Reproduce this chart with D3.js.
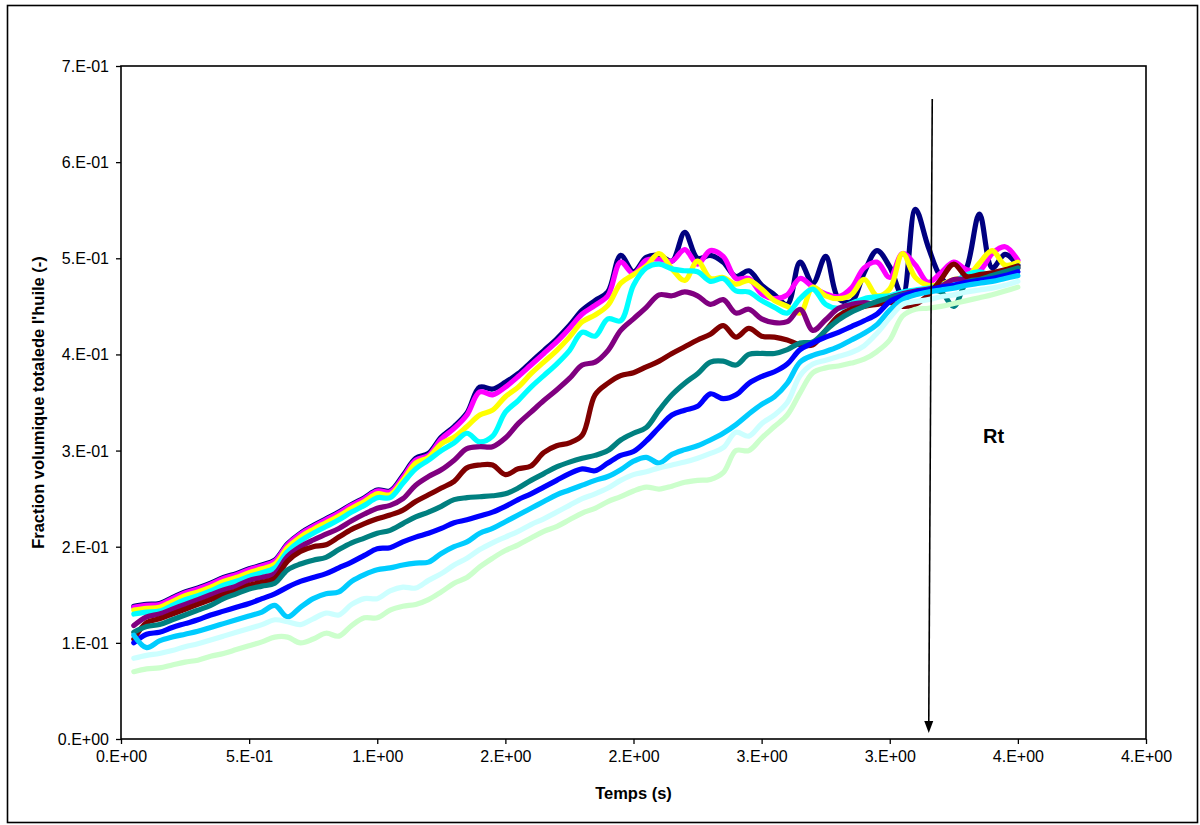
<!DOCTYPE html>
<html>
<head>
<meta charset="utf-8">
<script src="https://cdn.jsdelivr.net/npm/d3@7"></script>
<style>
  html, body { margin: 0; padding: 0; background: #fff; }
  svg { display: block; font-family: "Liberation Sans", Arial, sans-serif; }
</style>
</head>
<body>
<svg id="chart" width="1200" height="825"></svg>
<script>
const times = [0.05,0.10,0.15,0.20,0.25,0.30,0.35,0.40,0.45,0.50,0.55,0.60,0.65,0.70,0.75,0.80,0.85,0.90,0.95,1.00,
  1.05,1.10,1.15,1.20,1.25,1.30,1.35,1.40,1.45,1.50,1.55,1.60,1.65,1.70,1.75,1.80,1.85,1.90,1.95,2.00,
  2.05,2.10,2.15,2.20,2.25,2.30,2.35,2.40,2.45,2.50,2.55,2.60,2.65,2.70,2.75,2.80,2.85,2.90,2.95,3.00,
  3.05,3.10,3.15,3.20,3.25,3.30,3.35,3.40,3.45,3.50];

const sNavy = [0.138,0.140,0.141,0.147,0.153,0.157,0.162,0.168,0.172,0.177,0.181,0.186,0.203,0.214,0.222,0.229,0.236,0.244,0.251,0.259,
  0.258,0.274,0.292,0.297,0.314,0.325,0.339,0.366,0.364,0.371,0.380,0.392,0.404,0.416,0.430,0.446,0.456,0.465,0.503,0.486,
  0.501,0.503,0.497,0.527,0.500,0.503,0.496,0.481,0.487,0.472,0.462,0.452,0.496,0.474,0.502,0.458,0.455,0.485,0.508,0.491,
  0.461,0.551,0.512,0.480,0.470,0.490,0.546,0.490,0.504,0.493];
const sMagenta = [0.137,0.139,0.140,0.146,0.152,0.156,0.161,0.167,0.171,0.176,0.180,0.185,0.202,0.213,0.221,0.228,0.235,0.243,0.250,0.258,
  0.257,0.272,0.290,0.295,0.312,0.323,0.337,0.361,0.358,0.366,0.377,0.389,0.401,0.413,0.427,0.442,0.451,0.461,0.496,0.484,
  0.498,0.499,0.497,0.509,0.494,0.508,0.502,0.479,0.479,0.463,0.458,0.462,0.479,0.470,0.463,0.460,0.469,0.490,0.496,0.480,
  0.505,0.493,0.475,0.485,0.496,0.488,0.487,0.505,0.512,0.498];
const sYellow = [0.134,0.136,0.137,0.143,0.149,0.153,0.158,0.164,0.168,0.173,0.177,0.182,0.199,0.210,0.218,0.225,0.232,0.240,0.247,0.255,
  0.254,0.269,0.287,0.293,0.307,0.314,0.325,0.337,0.342,0.356,0.366,0.380,0.392,0.404,0.418,0.434,0.441,0.451,0.474,0.483,
  0.492,0.505,0.489,0.477,0.497,0.479,0.480,0.473,0.477,0.468,0.456,0.450,0.443,0.470,0.461,0.458,0.462,0.478,0.461,0.468,
  0.505,0.480,0.472,0.473,0.478,0.480,0.495,0.508,0.493,0.496];
const sCyan = [0.130,0.132,0.133,0.139,0.145,0.149,0.154,0.160,0.164,0.169,0.173,0.178,0.195,0.206,0.214,0.221,0.228,0.236,0.243,0.251,
  0.251,0.266,0.281,0.290,0.300,0.308,0.318,0.309,0.315,0.340,0.352,0.366,0.378,0.390,0.404,0.423,0.419,0.437,0.435,0.472,
  0.490,0.494,0.489,0.487,0.486,0.476,0.479,0.466,0.465,0.456,0.449,0.443,0.458,0.468,0.452,0.448,0.453,0.458,0.460,0.461,
  0.465,0.467,0.469,0.472,0.475,0.483,0.486,0.482,0.487,0.492];
const sPurple = [0.118,0.127,0.130,0.135,0.140,0.145,0.150,0.155,0.159,0.165,0.168,0.172,0.190,0.200,0.207,0.213,0.219,0.227,0.234,0.240,
  0.243,0.250,0.264,0.273,0.280,0.290,0.302,0.304,0.304,0.313,0.328,0.340,0.352,0.363,0.375,0.389,0.392,0.404,0.425,0.437,
  0.449,0.462,0.461,0.465,0.461,0.452,0.457,0.443,0.447,0.437,0.433,0.434,0.447,0.425,0.436,0.448,0.452,0.454,0.452,0.459,
  0.463,0.466,0.468,0.471,0.478,0.478,0.480,0.483,0.487,0.490];
const sMaroon = [0.104,0.121,0.125,0.130,0.135,0.140,0.145,0.150,0.154,0.160,0.163,0.167,0.185,0.195,0.200,0.202,0.210,0.218,0.224,0.229,
  0.233,0.238,0.247,0.254,0.261,0.268,0.282,0.285,0.285,0.275,0.281,0.284,0.298,0.305,0.308,0.316,0.358,0.370,0.378,0.381,
  0.387,0.393,0.401,0.408,0.415,0.421,0.430,0.418,0.427,0.419,0.418,0.415,0.410,0.410,0.425,0.440,0.447,0.450,0.452,0.454,
  0.450,0.452,0.462,0.478,0.494,0.481,0.483,0.485,0.488,0.492];
const sTeal = [0.111,0.117,0.119,0.124,0.129,0.134,0.139,0.146,0.151,0.156,0.159,0.162,0.176,0.182,0.186,0.189,0.197,0.204,0.209,0.214,
  0.217,0.224,0.231,0.236,0.242,0.249,0.251,0.252,0.253,0.255,0.261,0.269,0.276,0.283,0.288,0.292,0.295,0.300,0.311,0.318,
  0.324,0.342,0.358,0.370,0.380,0.392,0.393,0.389,0.400,0.401,0.401,0.405,0.412,0.413,0.425,0.436,0.444,0.450,0.455,0.459,
  0.462,0.464,0.467,0.465,0.450,0.475,0.478,0.482,0.486,0.490];
const sBlue = [0.100,0.109,0.111,0.116,0.120,0.124,0.129,0.133,0.137,0.141,0.146,0.151,0.158,0.164,0.168,0.172,0.178,0.184,0.191,0.198,
  0.199,0.205,0.210,0.214,0.219,0.225,0.228,0.232,0.236,0.242,0.249,0.255,0.262,0.269,0.276,0.281,0.279,0.287,0.295,0.299,
  0.310,0.324,0.337,0.342,0.346,0.359,0.354,0.358,0.370,0.377,0.382,0.390,0.405,0.412,0.418,0.423,0.429,0.435,0.442,0.455,
  0.461,0.465,0.467,0.470,0.472,0.475,0.477,0.479,0.482,0.486];
const sSkyBlue = [0.108,0.095,0.102,0.106,0.109,0.112,0.116,0.120,0.124,0.128,0.132,0.139,0.127,0.137,0.146,0.151,0.153,0.164,0.171,0.176,
  0.178,0.181,0.183,0.184,0.193,0.200,0.205,0.214,0.219,0.226,0.233,0.240,0.247,0.254,0.259,0.264,0.269,0.273,0.280,0.289,
  0.293,0.287,0.296,0.301,0.305,0.311,0.318,0.327,0.338,0.348,0.356,0.370,0.392,0.399,0.403,0.408,0.415,0.422,0.431,0.446,
  0.457,0.462,0.465,0.467,0.469,0.472,0.474,0.476,0.479,0.482];
const sLightCyan = [0.084,0.087,0.089,0.092,0.096,0.099,0.103,0.107,0.111,0.115,0.119,0.124,0.122,0.119,0.125,0.131,0.129,0.140,0.146,0.146,
  0.154,0.158,0.157,0.165,0.172,0.181,0.188,0.197,0.204,0.210,0.216,0.223,0.229,0.236,0.243,0.250,0.255,0.261,0.269,0.275,
  0.278,0.282,0.285,0.288,0.292,0.297,0.303,0.319,0.315,0.328,0.337,0.350,0.378,0.390,0.394,0.398,0.402,0.409,0.422,0.438,
  0.452,0.455,0.457,0.460,0.462,0.465,0.467,0.469,0.472,0.476];
const sLightGreen = [0.070,0.073,0.074,0.077,0.080,0.082,0.086,0.089,0.093,0.097,0.101,0.106,0.106,0.100,0.104,0.110,0.107,0.118,0.126,0.126,
  0.134,0.138,0.140,0.145,0.153,0.162,0.168,0.179,0.188,0.196,0.202,0.209,0.216,0.221,0.228,0.235,0.240,0.247,0.252,0.258,
  0.262,0.260,0.263,0.267,0.269,0.270,0.277,0.300,0.300,0.313,0.325,0.337,0.360,0.381,0.386,0.388,0.391,0.395,0.403,0.415,
  0.440,0.447,0.448,0.450,0.453,0.456,0.459,0.462,0.466,0.470];

const seriesList = [sNavy, sMagenta, sYellow, sCyan, sPurple, sMaroon, sTeal, sBlue, sSkyBlue, sLightCyan, sLightGreen];
const seriesColors = ["#000080","#FF00FF","#FFFF00","#00FFFF","#800080","#800000","#008080","#0000FF","#00CCFF","#CCFFFF","#CCFFCC"];

const xTickValues = [0,0.5,1.0,1.5,2.0,2.5,3.0,3.5,4.0];
const xTickLabels = ["0.E+00","5.E-01","1.E+00","2.E+00","2.E+00","3.E+00","3.E+00","4.E+00","4.E+00"];
const yTickValues = [0,0.1,0.2,0.3,0.4,0.5,0.6,0.7];
const yTickLabels = ["0.E+00","1.E-01","2.E-01","3.E-01","4.E-01","5.E-01","6.E-01","7.E-01"];

const xTitle = "Temps (s)";
const yTitle = "Fraction volumique totalede l'huile (-)";
const markerTime = 3.16;
const markerLabel = "Rt";

const svg = d3.select("#chart");
const L = 121, R = 1146, T = 66, B = 739;
const x = d3.scaleLinear().domain([0, 4]).range([L, R]);
const y = d3.scaleLinear().domain([0, 0.7]).range([B, T]);

// outer frame
svg.append("rect").attr("x", 7.5).attr("y", 5.5).attr("width", 1190).attr("height", 817)
  .attr("fill", "#fff").attr("stroke", "#000").attr("stroke-width", 1.6);

// axes
const xAxis = svg.append("g").attr("transform", `translate(0,${B})`)
  .call(d3.axisBottom(x).tickValues(xTickValues).tickFormat((d, i) => xTickLabels[i]).tickSize(5).tickSizeOuter(0));
const yAxis = svg.append("g").attr("transform", `translate(${L},0)`)
  .call(d3.axisLeft(y).tickValues(yTickValues).tickFormat((d, i) => yTickLabels[i]).tickSize(5).tickSizeOuter(0));
[xAxis, yAxis].forEach(g => {
  g.select(".domain").remove();
  g.selectAll(".tick line").attr("stroke", "#000").attr("stroke-width", 1.3);
  g.selectAll(".tick text").attr("fill", "#000").style("font-size", "16px")
    .style("font-family", '"Liberation Sans", Arial, sans-serif');
});
xAxis.selectAll(".tick text").attr("y", 12).attr("dy", "0.71em");
yAxis.selectAll(".tick text").attr("x", -12).attr("dy", "0.34em");

// series lines
const line = d3.line().x((d, i) => x(times[i])).y(d => y(d)).curve(d3.curveCatmullRom.alpha(0.5));
const lineG = svg.append("g");
seriesList.forEach((vals, k) => {
  lineG.append("path").datum(vals).attr("d", line)
    .attr("fill", "none").attr("stroke", seriesColors[k]).attr("stroke-width", 5.2)
    .attr("stroke-linejoin", "round").attr("stroke-linecap", "round");
});

// plot frame
svg.append("rect").attr("x", L).attr("y", T).attr("width", R - L).attr("height", B - T)
  .attr("fill", "none").attr("stroke", "#000").attr("stroke-width", 1.6);

// arrow
const ax0 = x(markerTime) + 1.5, ay0 = 99, ax1 = x(markerTime) - 2, ay1 = 733;
svg.append("line").attr("x1", ax0).attr("y1", ay0).attr("x2", ax1).attr("y2", ay1 - 8)
  .attr("stroke", "#000").attr("stroke-width", 1.6);
svg.append("path").attr("d", `M${ax1 - 4.5},${ay1 - 12} L${ax1 + 4.5},${ay1 - 12} L${ax1},${ay1} Z`).attr("fill", "#000");

svg.append("text").attr("x", 983).attr("y", 443).text(markerLabel)
  .style("font-size", "20px").style("font-weight", "bold").attr("fill", "#000");

// titles
svg.append("text").attr("x", (L + R) / 2).attr("y", 799).attr("text-anchor", "middle")
  .style("font-size", "16.5px").style("font-weight", "bold").text(xTitle);
svg.append("text").attr("transform", `translate(43.5,${(T + B) / 2}) rotate(-90)`).attr("text-anchor", "middle")
  .style("font-size", "16.5px").style("font-weight", "bold").text(yTitle);
</script>
</body>
</html>
